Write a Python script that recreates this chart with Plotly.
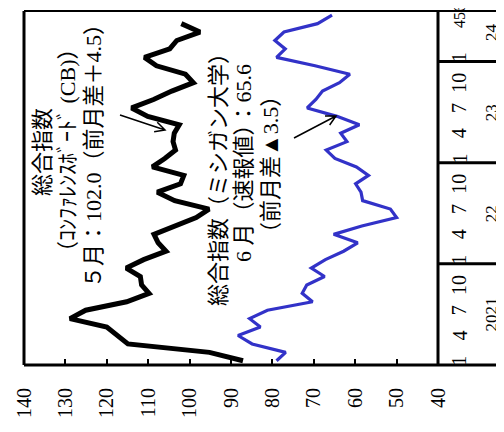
import math
import plotly.graph_objects as go

# ---------------- data ----------------
YEAR_LABELS = ["2021", "22", "23", "24"]
MONTH_TICKS = ["1", "4", "7", "10"]
LAST_YEAR_TICKS = ["1", "456"]
VALUE_TICKS = [140, 130, 120, 110, 100, 90, 80, 70, 60, 50, 40]

# Conference Board consumer confidence, Jan 2021 - May 2024
CB = [87.1, 95.2, 114.9, 117.5, 120.0, 128.9, 125.1, 115.2, 109.8, 111.6, 111.9, 115.3,
      111.1, 105.7, 107.6, 108.6, 103.2, 98.4, 95.3, 103.6, 107.8, 102.2, 101.4, 109.0,
      106.0, 103.4, 104.0, 103.7, 102.5, 110.1, 114.0, 108.7, 104.3, 99.1, 101.0, 108.0,
      110.9, 104.8, 103.1, 97.5, 102.0]
# University of Michigan consumer sentiment, Jan 2021 - Jun 2024
MICH = [79.0, 76.8, 84.9, 88.3, 82.9, 85.5, 81.2, 70.3, 72.8, 71.7, 67.4, 70.6,
        67.2, 62.8, 59.4, 65.2, 58.4, 50.0, 51.5, 58.2, 58.6, 59.9, 56.8, 59.7,
        64.9, 67.0, 62.0, 63.5, 59.0, 64.4, 71.6, 69.5, 67.9, 63.8, 61.3, 69.7,
        79.0, 76.9, 79.4, 77.2, 69.1, 65.6]

CB_LINES = ["総合指数", "（ｺﾝﾌｧﾚﾝｽﾎﾞｰﾄﾞ (CB)）", "５月：102.0（前月差＋4.5）"]
MI_LINES = ["総合指数（ミシガン大学）", "6 月（速報値）：65.6", "（前月差▲3.5）"]

# ---------------- layout geometry ----------------
W, H = 504, 432
L, R, T, B = 16, 74, 3, 75
PW, PH = W - L - R, H - T - B
N = len(MICH)
SERIF = 'Liberation Serif, "Noto Sans CJK JP"'
BLUE = "#3232c8"
DX, DY = -8, -8  # rendering correction for rotated text


def px(x, y):
    return (x - L) / PW, (H - B - y) / PH


def idx_paper(i):
    return (i + 0.5) / N


fig = go.Figure()
fig.add_trace(go.Scatter(x=CB, y=list(range(len(CB))), mode="lines",
                         line=dict(color="black", width=5), hoverinfo="skip"))
fig.add_trace(go.Scatter(x=MICH, y=list(range(len(MICH))), mode="lines",
                         line=dict(color=BLUE, width=3.2), hoverinfo="skip"))

shapes = []
xr = (W - L) / PW
# frame
shapes.append(dict(type="line", xref="paper", yref="paper", x0=0, x1=0, y0=0, y1=1,
                   line=dict(color="black", width=3)))
shapes.append(dict(type="line", xref="paper", yref="paper", x0=1, x1=1, y0=0, y1=1,
                   line=dict(color="black", width=3)))
shapes.append(dict(type="line", xref="paper", yref="paper", x0=0, x1=xr, y0=0, y1=0,
                   line=dict(color="black", width=3)))
shapes.append(dict(type="line", xref="paper", yref="paper", x0=0, x1=xr, y0=1, y1=1,
                   line=dict(color="black", width=2)))
# year separators
for k in range(1, len(YEAR_LABELS)):
    yy = (12 * k) / N
    shapes.append(dict(type="line", xref="paper", yref="paper", x0=1, x1=xr, y0=yy, y1=yy,
                       line=dict(color="black", width=3)))


def arrow(tail, head, wing=11, ang=27, width=1.5):
    (x0, y0), (x1, y1) = tail, head
    d = math.atan2(y1 - y0, x1 - x0)
    wings = []
    for s in (1, -1):
        a = d + math.pi + s * math.radians(ang)
        wings.append((x1 + wing * math.cos(a), y1 + wing * math.sin(a)))
    p = [px(*tail), px(*head), px(*wings[0]), px(*wings[1])]
    path = (f"M{p[0][0]},{p[0][1]} L{p[1][0]},{p[1][1]} "
            f"M{p[2][0]},{p[2][1]} L{p[1][0]},{p[1][1]} L{p[3][0]},{p[3][1]}")
    return dict(type="path", xref="paper", yref="paper", path=path,
                line=dict(color="black", width=width))


shapes.append(arrow((112, 107), (157, 122)))
shapes.append(arrow((286, 130), (328, 108)))

annotations = []


def rot_text(text, x, y, size):
    annotations.append(dict(x=x, y=y, xref="paper", yref="paper", text=text,
                            showarrow=False, textangle=-90, xanchor="center",
                            yanchor="middle",
                            font=dict(family=SERIF, size=size, color="black")))


mx = px(451, 0)[0]
yx = px(483, 0)[0]
for k, yl in enumerate(YEAR_LABELS):
    ticks = MONTH_TICKS if k < len(YEAR_LABELS) - 1 else LAST_YEAR_TICKS
    for m in ticks:
        if m == "456":
            rot_text(m, mx, px(0, 8)[1], 16)
        else:
            rot_text(m, mx, idx_paper(12 * k + int(m) - 1), 20)
    if k < len(YEAR_LABELS) - 1:
        yc = idx_paper(12 * k + 5.5)
    else:
        yc = idx_paper(12 * k + 3)
    rot_text(yl, yx, yc, 17)

# annotation text lines (pixel centres)
for text, (x, y) in zip(CB_LINES, [(42, 152), (67, 150), (93, 151)]):
    xx, yy = px(x + DX, y + DY)
    rot_text(text, xx, yy, 22)
for text, (x, y) in zip(MI_LINES, [(218, 174), (243, 163), (270, 165)]):
    xx, yy = px(x + DX, y + DY)
    rot_text(text, xx, yy, 22)

fig.update_layout(
    width=W, height=H,
    margin=dict(l=L, r=R, t=T, b=B, pad=0),
    paper_bgcolor="white", plot_bgcolor="white",
    showlegend=False,
    xaxis=dict(range=[140, 40], tickvals=VALUE_TICKS, ticks="inside", ticklen=6,
               tickwidth=1.5, tickcolor="black", tickangle=-90,
               tickfont=dict(family=SERIF, size=20, color="black"),
               showgrid=False, zeroline=False, showline=False, ticklabelstandoff=18),
    yaxis=dict(range=[-0.5, N - 0.5], visible=False),
    shapes=shapes, annotations=annotations,
)

fig.write_html("out.html")
